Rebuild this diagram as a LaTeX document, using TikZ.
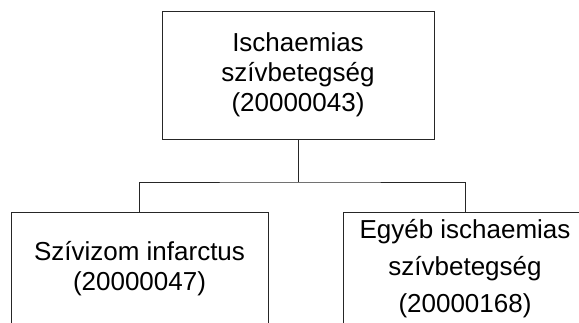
\documentclass[tikz,border=0pt]{standalone}
\usepackage{fontspec}
\setmainfont{Liberation Sans}
\usetikzlibrary{positioning}

\tikzset{
  box/.style={draw=black!85, line width=1pt, inner sep=0pt, align=center,
    minimum height=128pt, font=\fontsize{26}{30}\selectfont},
  leaf/.style={box, minimum height=114pt},
  link/.style={draw=black!85, line width=1pt},
}

\begin{document}
\begin{tikzpicture}[x=1pt,y=-1pt]
   \clip (0,0) rectangle (579,322);

   \node[box, minimum width=272pt] (ischaem) at (298,75)
     {Ischaemias\\szívbetegség\\(20000043)};

   \node[leaf, minimum width=257pt] (infarct) at (139.5,269)
     {Szívizom infarctus\\(20000047)};
   \node[leaf, minimum width=244pt, font=\fontsize{26}{37}\selectfont] (egyeb) at (465,269)
     {Egyéb ischaemias\\szívbetegség\\(20000168)};

   %\draw (0,0) rectangle (579,322);
   \coordinate (fork) at (298,182);
   \draw[link] (ischaem.south) -- (fork);
   \draw[link] (infarct.north) |- (fork) -| (egyeb.north);
\end{tikzpicture}
\end{document}
